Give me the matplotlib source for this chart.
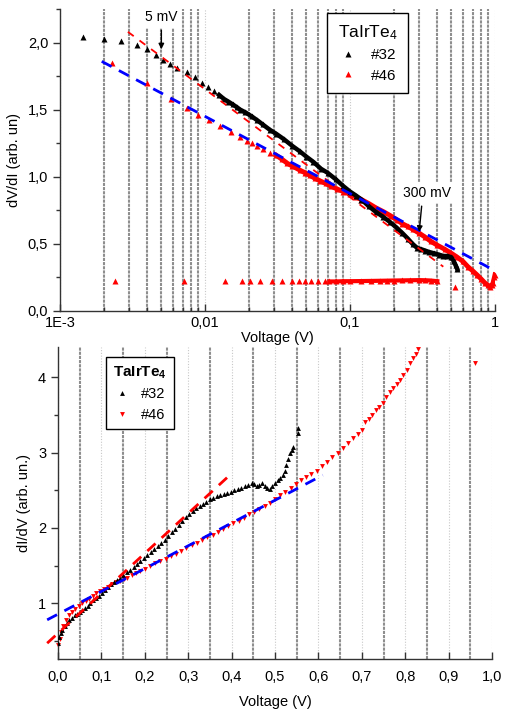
import numpy as np
import matplotlib
matplotlib.use("Agg")
import matplotlib.pyplot as plt
from matplotlib.ticker import FixedLocator, FuncFormatter, MultipleLocator

plt.rcParams['font.family'] = ['Liberation Sans', 'DejaVu Sans']
plt.rcParams['mathtext.default'] = 'regular'

# ---- top panel: dV/dI vs V (log scale) ----
v32_top = [0.00145, 0.0020, 0.00263, 0.0034, 0.0040, 0.0046, 0.0051, 0.0057, 0.0064, 0.0075,
           0.0085, 0.0095, 0.0105, 0.0115, 0.0125, 0.0135, 0.0145, 0.0155, 0.0165, 0.0175,
           0.019, 0.021, 0.023, 0.025, 0.028, 0.031, 0.035, 0.04, 0.045, 0.05,
           0.056, 0.063, 0.07, 0.08, 0.09, 0.10, 0.11, 0.12, 0.135, 0.15,
           0.17, 0.19, 0.21, 0.23, 0.25, 0.27, 0.29, 0.31, 0.33, 0.35,
           0.38, 0.41, 0.44, 0.47, 0.50, 0.52, 0.535, 0.55]
r32_top = [2.04, 2.03, 2.01, 1.985, 1.95, 1.91, 1.87, 1.84, 1.81, 1.78,
           1.74, 1.70, 1.67, 1.64, 1.61, 1.58, 1.56, 1.54, 1.52, 1.50,
           1.48, 1.45, 1.42, 1.39, 1.35, 1.32, 1.28, 1.23, 1.19, 1.15,
           1.11, 1.06, 1.03, 0.98, 0.93, 0.89, 0.86, 0.83, 0.78, 0.74,
           0.70, 0.66, 0.62, 0.58, 0.54, 0.50, 0.47, 0.46, 0.45, 0.44,
           0.43, 0.42, 0.41, 0.41, 0.40, 0.37, 0.34, 0.31]

v46_top = [0.0023, 0.0040, 0.0058, 0.0075, 0.0090, 0.0107, 0.0127, 0.0150, 0.0174, 0.0195,
           0.021, 0.023, 0.025, 0.028, 0.031, 0.034, 0.037, 0.04, 0.045, 0.049,
           0.053, 0.057, 0.062, 0.068, 0.074, 0.081, 0.09, 0.1, 0.11, 0.12,
           0.135, 0.15, 0.17, 0.19, 0.21, 0.23, 0.25, 0.27, 0.3, 0.33,
           0.36, 0.4, 0.45, 0.5, 0.55, 0.6, 0.65, 0.7, 0.75, 0.8,
           0.85, 0.9, 0.93, 0.95, 0.97, 0.99, 1.0]
r46_top = [1.85, 1.70, 1.58, 1.51, 1.46, 1.42, 1.38, 1.33, 1.30, 1.27,
           1.25, 1.23, 1.21, 1.18, 1.16, 1.13, 1.10, 1.08, 1.05, 1.03,
           1.01, 0.99, 0.97, 0.95, 0.93, 0.91, 0.89, 0.87, 0.85, 0.83,
           0.80, 0.77, 0.74, 0.71, 0.68, 0.65, 0.63, 0.61, 0.58, 0.55,
           0.52, 0.49, 0.46, 0.43, 0.40, 0.37, 0.33, 0.30, 0.27, 0.24,
           0.21, 0.19, 0.18, 0.19, 0.21, 0.25, 0.27]

v46_low = [0.0024, 0.0072, 0.0137, 0.0179, 0.0205, 0.0239, 0.0289, 0.0338, 0.0398, 0.0444,
           0.049, 0.054, 0.06, 0.067, 0.072, 0.08, 0.09, 0.1, 0.12, 0.14,
           0.16, 0.18, 0.2, 0.23, 0.26, 0.3, 0.33, 0.36, 0.4, 0.53]
r46_low = [0.225, 0.225, 0.22, 0.22, 0.22, 0.22, 0.22, 0.22, 0.22, 0.22,
           0.22, 0.22, 0.22, 0.22, 0.22, 0.22, 0.222, 0.222, 0.223, 0.224,
           0.225, 0.226, 0.227, 0.228, 0.229, 0.23, 0.229, 0.227, 0.222, 0.18]

fit32_top_v = [0.00294, 0.44]
fit32_top_r = [2.08, 0.33]
fit46_top_v = [0.00194, 0.96]
fit46_top_r = [1.86, 0.31]

top_xticks = [0.001, 0.01, 0.1, 1]
top_xlabels = ["1E-3", "0,01", "0,1", "1"]

# ---- bottom panel: dI/dV vs V (linear) ----
v32_bot = [0.000, 0.003, 0.006, 0.010, 0.015, 0.020, 0.026, 0.032, 0.038, 0.044,
           0.050, 0.056, 0.062, 0.068, 0.074, 0.080, 0.087, 0.094, 0.101, 0.108,
           0.115, 0.122, 0.129, 0.136, 0.143, 0.150, 0.158, 0.166, 0.174, 0.182,
           0.190, 0.198, 0.206, 0.214, 0.222, 0.230, 0.238, 0.246, 0.254, 0.262,
           0.270, 0.278, 0.286, 0.294, 0.302, 0.310, 0.318, 0.326, 0.334, 0.342,
           0.350, 0.358, 0.366, 0.374, 0.382, 0.390, 0.398, 0.406, 0.414, 0.422,
           0.430, 0.438, 0.446, 0.452, 0.458, 0.464, 0.470, 0.476, 0.482, 0.488,
           0.494, 0.500, 0.506, 0.512, 0.518, 0.522, 0.526, 0.530, 0.534, 0.538,
           0.541, 0.553, 0.553]
g32_bot = [0.47, 0.55, 0.60, 0.65, 0.70, 0.74, 0.78, 0.81, 0.84, 0.86,
           0.88, 0.91, 0.94, 0.97, 1.00, 1.04, 1.07, 1.10, 1.14, 1.17,
           1.21, 1.25, 1.28, 1.31, 1.34, 1.37, 1.41, 1.44, 1.48, 1.52,
           1.56, 1.60, 1.64, 1.68, 1.72, 1.76, 1.80, 1.84, 1.89, 1.94,
           1.99, 2.04, 2.09, 2.14, 2.19, 2.22, 2.26, 2.29, 2.32, 2.35,
           2.38, 2.40, 2.42, 2.44, 2.45, 2.46, 2.48, 2.50, 2.51, 2.53,
           2.55, 2.57, 2.59, 2.58, 2.55, 2.57, 2.59, 2.56, 2.53, 2.52,
           2.55, 2.60, 2.63, 2.66, 2.70, 2.76, 2.84, 2.92, 2.99, 3.04,
           3.08, 3.26, 3.32]

v46_bot = [0.000, 0.004, 0.008, 0.012, 0.018, 0.025, 0.032, 0.040, 0.048, 0.056,
           0.064, 0.072, 0.080, 0.088, 0.097, 0.106, 0.115, 0.124, 0.133, 0.142,
           0.151, 0.160, 0.170, 0.180, 0.190, 0.200, 0.212, 0.224, 0.236, 0.248,
           0.260, 0.272, 0.284, 0.296, 0.308, 0.320, 0.332, 0.344, 0.356, 0.368,
           0.380, 0.392, 0.404, 0.416, 0.428, 0.440, 0.452, 0.464, 0.476, 0.488,
           0.500, 0.512, 0.524, 0.536, 0.548, 0.560, 0.572, 0.584, 0.596, 0.608,
           0.620, 0.632, 0.644, 0.656, 0.668, 0.680, 0.692, 0.700, 0.708, 0.716,
           0.724, 0.732, 0.740, 0.748, 0.756, 0.764, 0.772, 0.780, 0.788, 0.796,
           0.804, 0.812, 0.818, 0.824, 0.830, 0.960]
g46_bot = [0.45, 0.52, 0.62, 0.70, 0.78, 0.85, 0.89, 0.93, 0.97, 1.00,
           1.03, 1.06, 1.10, 1.13, 1.16, 1.19, 1.22, 1.25, 1.28, 1.30,
           1.32, 1.34, 1.37, 1.40, 1.43, 1.46, 1.49, 1.53, 1.56, 1.59,
           1.63, 1.66, 1.70, 1.73, 1.77, 1.80, 1.84, 1.88, 1.91, 1.95,
           1.98, 2.02, 2.06, 2.09, 2.13, 2.18, 2.21, 2.25, 2.29, 2.33,
           2.38, 2.43, 2.48, 2.53, 2.58, 2.63, 2.68, 2.72, 2.76, 2.82,
           2.88, 2.94, 3.00, 3.06, 3.12, 3.19, 3.25, 3.30, 3.40, 3.45,
           3.50, 3.56, 3.61, 3.66, 3.74, 3.80, 3.85, 3.91, 3.96, 4.03,
           4.10, 4.19, 4.25, 4.31, 4.38, 4.19]

fit32_bot_v = [-0.025, 0.39]
fit32_bot_g = [0.47, 2.67]
fit46_bot_v = [-0.025, 0.61]
fit46_bot_g = [0.78, 2.70]

comma = FuncFormatter(lambda x, pos: ("%.1f" % x).replace(".", ","))

fig = plt.figure(figsize=(5.05, 7.11), dpi=100)
ax1 = fig.add_axes([0.1188, 0.5626, 0.8614, 0.4247])
ax2 = fig.add_axes([0.1149, 0.0731, 0.8594, 0.4388])

dark_grid = dict(color="#8e8e8e", lw=1.5, ls=(0, (1.5, 0.5)))
light_grid = dict(color="#c8c8c8", lw=0.8, ls=(0, (1, 1.5)))

for ax in (ax1, ax2):
    for s in ("top", "right"):
        ax.spines[s].set_visible(False)
    for s in ("left", "bottom"):
        ax.spines[s].set_color("#333333")
        ax.spines[s].set_linewidth(1.0)
    ax.set_axisbelow(True)
    ax.tick_params(axis="x", which="both", direction="in", colors="#333333", labelcolor="black",
                   labelsize=10.5)
    ax.tick_params(axis="y", which="both", direction="out", colors="#333333", labelcolor="black",
                   labelsize=10.5)
    ax.tick_params(which="major", length=5, width=1)
    ax.tick_params(which="minor", length=3, width=1)
    ax.grid(True, axis="x", which="minor", **dark_grid)
    ax.grid(True, axis="x", which="major", **light_grid)

# top panel
ax1.set_xscale("log")
ax1.set_xlim(1e-3, 1)
ax1.set_ylim(0, 2.25)
ax1.xaxis.set_major_locator(FixedLocator(top_xticks))
ax1.set_xticklabels(top_xlabels)
ax1.xaxis.set_minor_locator(matplotlib.ticker.LogLocator(base=10, subs=np.arange(2, 10)))
ax1.xaxis.set_minor_formatter(matplotlib.ticker.NullFormatter())
ax1.yaxis.set_major_locator(MultipleLocator(0.5))
ax1.yaxis.set_minor_locator(MultipleLocator(0.25))
ax1.yaxis.set_major_formatter(comma)

v32t = np.array(v32_top); r32t = np.array(r32_top)
v46t = np.array(v46_top); r46t = np.array(r46_top)
v46l = np.array(v46_low); r46l = np.array(r46_low)
m = v32t >= 0.012
ax1.plot(v32t[m], r32t[m], color="black", lw=3.2, zorder=3)
m = v46t >= 0.03
ax1.plot(v46t[m], r46t[m], color="red", lw=3.5, zorder=2)
m = (v46l >= 0.07) & (v46l <= 0.4)
ax1.plot(v46l[m], r46l[m], color="red", lw=3, zorder=2)
ax1.plot(v32t, r32t, "^", color="black", ms=5, mec="none", zorder=3, clip_on=False, label="#32")
ax1.plot(v46t, r46t, "^", color="red", ms=5, mec="none", zorder=2, clip_on=False, label="#46")
ax1.plot(v46l, r46l, "^", color="red", ms=5, mec="none", zorder=2, clip_on=False)
ax1.plot(fit32_top_v, fit32_top_r, color="red", lw=1.3, ls=(0, (4, 4)), zorder=4)
ax1.plot(fit46_top_v, fit46_top_r, color="blue", lw=2, ls=(0, (4, 3)), zorder=4)

ax1.annotate("5 mV", xy=(0.005, 1.95), xytext=(0.005, 2.19), ha="center", va="center",
             fontsize=10, bbox=dict(boxstyle="square,pad=0.25", fc="white", ec="none"),
             arrowprops=dict(arrowstyle="-|>", color="black", lw=1, shrinkA=2, shrinkB=0,
                             mutation_scale=8), zorder=6)
ax1.annotate("300 mV", xy=(0.30, 0.59), xytext=(0.34, 0.88), ha="center", va="center",
             fontsize=10, bbox=dict(boxstyle="square,pad=0.25", fc="white", ec="none"),
             arrowprops=dict(arrowstyle="-|>", color="black", lw=1, shrinkA=2, shrinkB=0,
                             mutation_scale=8, connectionstyle="arc3,rad=0",
                             relpos=(0.4, 0.0)), zorder=6)
ax1.set_xlabel("Voltage (V)", fontsize=10.5, labelpad=1)
ax1.set_ylabel("dV/dI (arb. un)", fontsize=10.5, labelpad=5)
leg1 = ax1.legend(title="TaIrTe$_4$", loc="upper left", bbox_to_anchor=(0.614, 0.987),
                  borderaxespad=0, fontsize=11, title_fontsize=12.5, frameon=True,
                  fancybox=False, edgecolor="black", framealpha=1, handlelength=1.2,
                  handletextpad=0.9, borderpad=0.7, labelspacing=0.4, markerscale=0.9)
leg1.get_frame().set_linewidth(1.0)
leg1.set_zorder(7)

# bottom panel
ax2.set_xlim(0, 1.0)
ax2.set_ylim(0.26, 4.4)
ax2.xaxis.set_major_locator(MultipleLocator(0.1))
ax2.xaxis.set_minor_locator(FixedLocator(np.arange(0.05, 1.0, 0.1)))
ax2.xaxis.set_major_formatter(comma)
ax2.yaxis.set_major_locator(MultipleLocator(1))
ax2.yaxis.set_minor_locator(MultipleLocator(0.5))
ax2.tick_params(axis="x", which="minor", length=0)

ax2.plot(v32_bot, g32_bot, "^", color="black", ms=3.5, mec="none", zorder=3, label="#32")
ax2.plot(v46_bot, g46_bot, "v", color="red", ms=3.5, mec="none", zorder=2, clip_on=False,
         label="#46")
ax2.plot(fit32_bot_v, fit32_bot_g, color="red", lw=2, ls=(0, (4, 3)), zorder=4, clip_on=False)
ax2.plot(fit46_bot_v, fit46_bot_g, color="blue", lw=2, ls=(0, (4, 3)), zorder=4, clip_on=False)
ax2.set_xlabel("Voltage (V)", fontsize=10.5, labelpad=8)
ax2.set_ylabel("dI/dV (arb. un.)", fontsize=10.5, labelpad=5)
ax2.tick_params(axis="x", which="major", pad=8)
leg2 = ax2.legend(title="TaIrTe$_4$", loc="upper left", bbox_to_anchor=(0.11, 0.968),
                  borderaxespad=0, fontsize=10.5, title_fontsize=11, frameon=True,
                  fancybox=False, edgecolor="black", framealpha=1, handlelength=1.0,
                  handletextpad=0.8, borderpad=0.5, labelspacing=0.45, markerscale=1.0)
leg2.get_title().set_fontweight("bold")
leg2.get_frame().set_linewidth(1.0)
leg2.set_zorder(7)

fig.savefig("out.png", dpi=100)
